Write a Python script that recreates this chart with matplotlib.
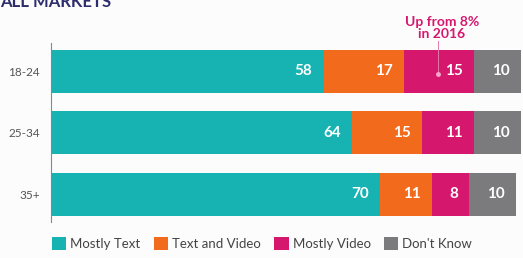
import matplotlib
matplotlib.use("Agg")
import matplotlib.pyplot as plt
import numpy as np

categories = ["18-24", "25-34", "35+"]
series_names = ["Mostly Text", "Text and Video", "Mostly Video", "Don't Know"]
mostly_text = [58, 64, 70]
text_and_video = [17, 15, 11]
mostly_video = [15, 11, 8]
dont_know = [10, 10, 10]
colors = ["#17B3B3", "#F26A1B", "#D6176E", "#7B7B7D"]

plt.rcParams['font.family'] = ['Lato', 'DejaVu Sans']
fig = plt.figure(figsize=(5.23, 2.58), dpi=100)
fig.patch.set_facecolor("#FCFCFC")
ax = fig.add_axes([51/523, 36/258, 470/523, 179/258])
ax.set_facecolor("#FCFCFC")

data = [mostly_text, text_and_video, mostly_video, dont_know]
y = np.arange(len(categories))
left = np.zeros(len(categories))
for vals, name, c in zip(data, series_names, colors):
    vals = np.array(vals, dtype=float)
    ax.barh(y, vals, left=left, height=0.7, color=c, label=name, edgecolor="none")
    for yi, l, v in zip(y, left, vals):
        ax.annotate(f"{int(v)}", xy=(l + v, yi), xytext=(-8, 0), textcoords="offset points",
                    ha="right", va="center", color="white", fontsize=11, fontweight="bold")
    left += vals

ax.set_xlim(0, 100)
ax.set_ylim(2.45, -0.46)
ax.set_yticks(y)
ax.set_yticklabels(categories, color="#555555", fontsize=8.5)
ax.tick_params(axis="y", length=0, pad=8)
ax.set_xticks([])
for s in ["top", "right", "bottom"]:
    ax.spines[s].set_visible(False)
ax.spines["left"].set_color("#888888")
ax.spines["left"].set_linewidth(0.8)

# annotation leader line
ax.plot([82.3, 82.3], [-0.5, 0.05], color="#E47AA8", lw=0.7, clip_on=False, zorder=5)
ax.plot([82.3], [0.05], marker="o", markersize=2.5, color="#F4A8C8", zorder=6, clip_on=False)
fig.text(442/523, 1 - 28/258, "Up from 8%\nin 2016", ha="center", va="center",
         color="#D6176E", fontsize=10, fontweight="bold", linespacing=0.95)

fig.text(0.0, 1 - 2/258, "ALL MARKETS", ha="left", va="center", color="#2E2D6B",
         fontsize=12, fontweight="bold")

leg = fig.legend(loc="lower left", bbox_to_anchor=(44/523, 0.0), ncol=4, frameon=False,
                 fontsize=9.5, handlelength=1.1, handleheight=1.1, handletextpad=0.3,
                 columnspacing=1.0, borderaxespad=0.2)
for t in leg.get_texts():
    t.set_color("#444444")

fig.savefig("out.png", dpi=100, facecolor=fig.get_facecolor())
